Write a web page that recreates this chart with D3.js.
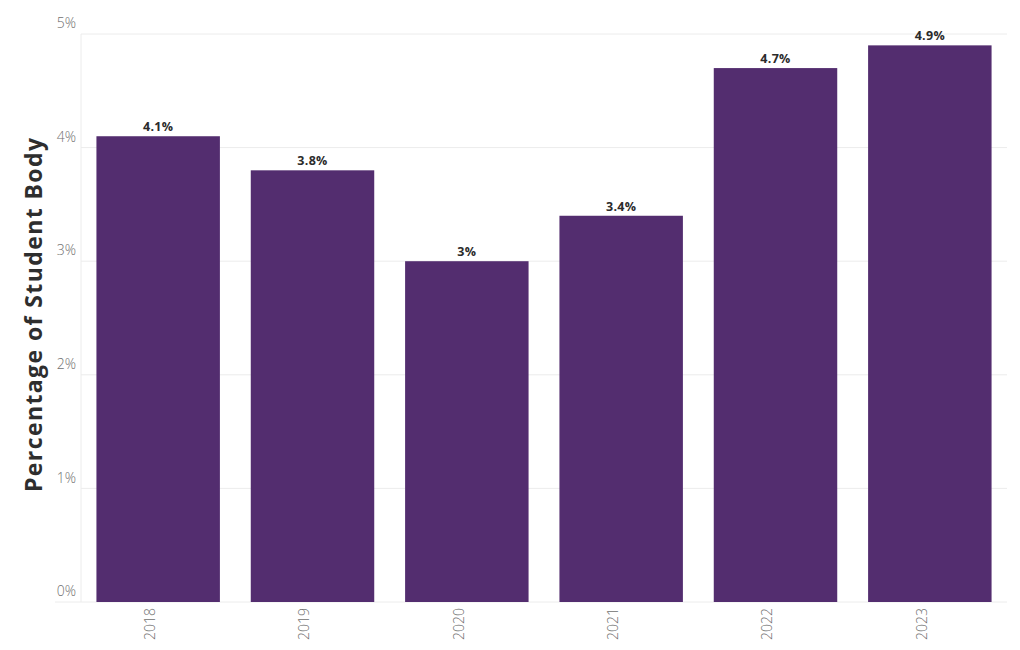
<!DOCTYPE html>
<html><head><meta charset="utf-8">
<script src="https://cdn.jsdelivr.net/npm/d3@7"></script>
<style>body{margin:0;background:#fff;} svg{display:block;}</style>
</head><body>
<svg id="c" width="1020" height="650"></svg>
<script>
const years = ["2018","2019","2020","2021","2022","2023"];
const values = [4.1, 3.8, 3.0, 3.4, 4.7, 4.9];
const yTicks = [0,1,2,3,4,5];
const yTitle = "Percentage of Student Body";

const svg = d3.select("#c");
const m = {left:81, right:1007, top:34, bottom:602};
const x = d3.scaleBand().domain(years).range([m.left, m.right]).paddingInner(0.2).paddingOuter(0.1);
const y = d3.scaleLinear().domain([0,5]).range([m.bottom, m.top]);
const font = "'Open Sans', sans-serif";

// gridlines
svg.append("g").selectAll("line").data(yTicks).join("line")
  .attr("x1", d=> d===0 ? 55 : m.left).attr("x2", m.right)
  .attr("y1", d=>y(d)).attr("y2", d=>y(d))
  .attr("stroke", "#ececec").attr("stroke-width", 1);
svg.append("line").attr("x1", m.left).attr("x2", m.left).attr("y1", m.top).attr("y2", m.bottom)
  .attr("stroke", "#ececec");

// y axis labels
const yAxis = d3.axisLeft(y).tickValues(yTicks).tickFormat(d=>d+"%").tickSize(0).tickPadding(5);
const gy = svg.append("g").attr("transform", `translate(${m.left},0)`).call(yAxis);
gy.select(".domain").remove();
gy.selectAll("text").attr("font-family", font).attr("font-size", 14).attr("font-weight", 300)
  .attr("fill", "#707070").attr("dy", "-0.45em");

// bars
svg.append("g").selectAll("rect").data(values).join("rect")
  .attr("x", (d,i)=>x(years[i])).attr("width", x.bandwidth())
  .attr("y", d=>y(d)).attr("height", d=>y(0)-y(d))
  .attr("fill", "#532d6f");

// value labels
svg.append("g").selectAll("text").data(values).join("text")
  .attr("x", (d,i)=>x(years[i]) + x.bandwidth()/2).attr("y", d=>y(d)-5)
  .attr("text-anchor", "middle").attr("font-family", font).attr("font-size", 12.5)
  .attr("font-weight", 700).attr("fill", "#2b2b2b").attr("letter-spacing", 0.3)
  .text(d=>d+"%");

// x axis
const xAxis = d3.axisBottom(x).tickSize(0).tickPadding(6);
const gx = svg.append("g").attr("transform", `translate(-8,${m.bottom})`).call(xAxis);
gx.select(".domain").remove();
gx.selectAll("text").attr("font-family", font).attr("font-size", 14).attr("font-weight", 300)
  .attr("fill", "#707070").attr("text-anchor", "end")
  .attr("transform", "rotate(-90)").attr("x", -6).attr("y", 0).attr("dy", "0.35em").attr("dx", 0);

// title
svg.append("text").attr("transform", `translate(42,${(138+492)/2}) rotate(-90)`)
  .attr("text-anchor", "middle").attr("font-family", font).attr("font-size", 23)
  .attr("font-weight", 700).attr("fill", "#2e2e2e")
  .attr("textLength", 354).attr("lengthAdjust", "spacing").text(yTitle);
</script>
</body></html>
